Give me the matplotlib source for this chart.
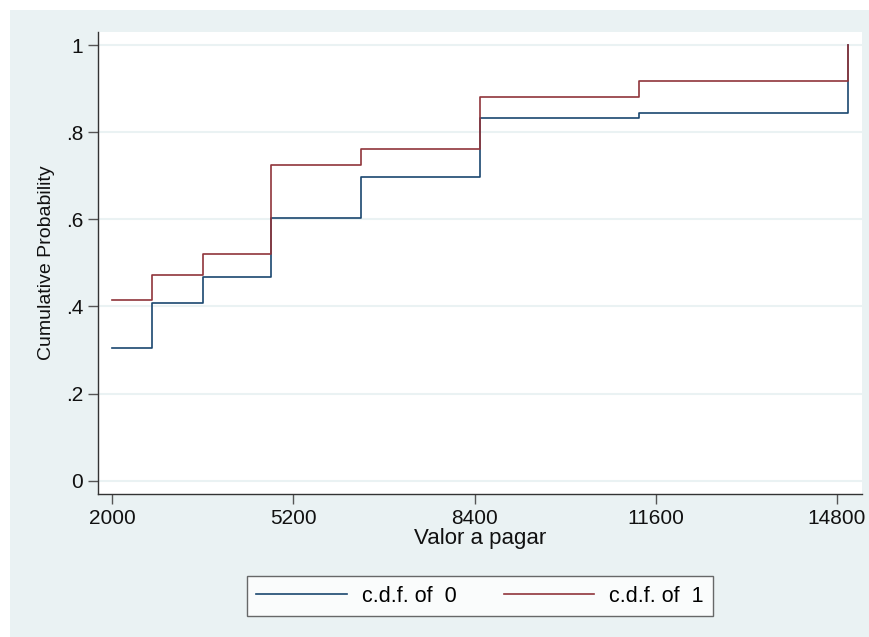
import matplotlib
matplotlib.use("Agg")
import matplotlib.pyplot as plt
import matplotlib.patches as patches

plt.rcParams['font.family'] = ['Liberation Sans', 'DejaVu Sans']

# step points (Valor a pagar) and cumulative probabilities
valor = [2000, 2700, 3600, 4800, 6400, 8500, 11300, 15000]
cdf_0 = [0.305, 0.407, 0.468, 0.603, 0.697, 0.832, 0.845, 1.0]
cdf_1 = [0.414, 0.473, 0.521, 0.726, 0.761, 0.881, 0.917, 1.0]

x_ticks = [2000, 5200, 8400, 11600, 14800]
y_ticks = [0, 0.2, 0.4, 0.6, 0.8, 1.0]
y_ticklabels = ['0', '.2', '.4', '.6', '.8', '1']

navy = '#1a476f'
maroon = '#90353b'
bg = '#eaf2f3'

fig = plt.figure(figsize=(8.7, 6.37), dpi=100)
fig.patch.set_facecolor('white')
# graph region (light background, small white margin top/left)
fig.patches.append(patches.Rectangle((10 / 870, 0), 1, 1 - 10 / 637,
                                     transform=fig.transFigure,
                                     facecolor=bg, edgecolor='none', zorder=-10))

ax = fig.add_axes([98.3 / 870, (637 - 494) / 637,
                   (861.7 - 98.3) / 870, (494 - 31.7) / 637])
ax.set_facecolor('white')

ax.plot(valor, cdf_0, drawstyle='steps-post', color=navy, lw=1.2, label='c.d.f. of  0')
ax.plot(valor, cdf_1, drawstyle='steps-post', color=maroon, lw=1.2, label='c.d.f. of  1')

ax.set_xlim(1751, 15241)
ax.set_ylim(-0.0306, 1.031)
ax.set_xticks(x_ticks)
ax.set_xticklabels([str(v) for v in x_ticks])
ax.set_yticks(y_ticks)
ax.set_yticklabels(y_ticklabels)

ax.grid(axis='y', color=bg, lw=1.5)
ax.set_axisbelow(True)

for s in ['top', 'right']:
    ax.spines[s].set_visible(False)
for s in ['left', 'bottom']:
    ax.spines[s].set_color('#333333')
    ax.spines[s].set_linewidth(1.0)

ax.tick_params(direction='out', length=7, width=1, color='#555555',
               labelsize=15, labelcolor='#111111', pad=4)

ax.set_xlabel('Valor a pagar', fontsize=16, color='#111111', labelpad=0)
ax.set_ylabel('Cumulative Probability', fontsize=14, color='#111111', labelpad=8)

leg = ax.legend(loc='center', bbox_to_anchor=(0.5, -0.221), ncol=2,
                fontsize=15.5, frameon=True, fancybox=False,
                handlelength=4.2, handletextpad=0.7, columnspacing=2.2,
                borderpad=0.45)
leg.get_frame().set_edgecolor('#444444')
leg.get_frame().set_linewidth(1.0)

fig.savefig('out.png', dpi=100, facecolor=fig.get_facecolor())
